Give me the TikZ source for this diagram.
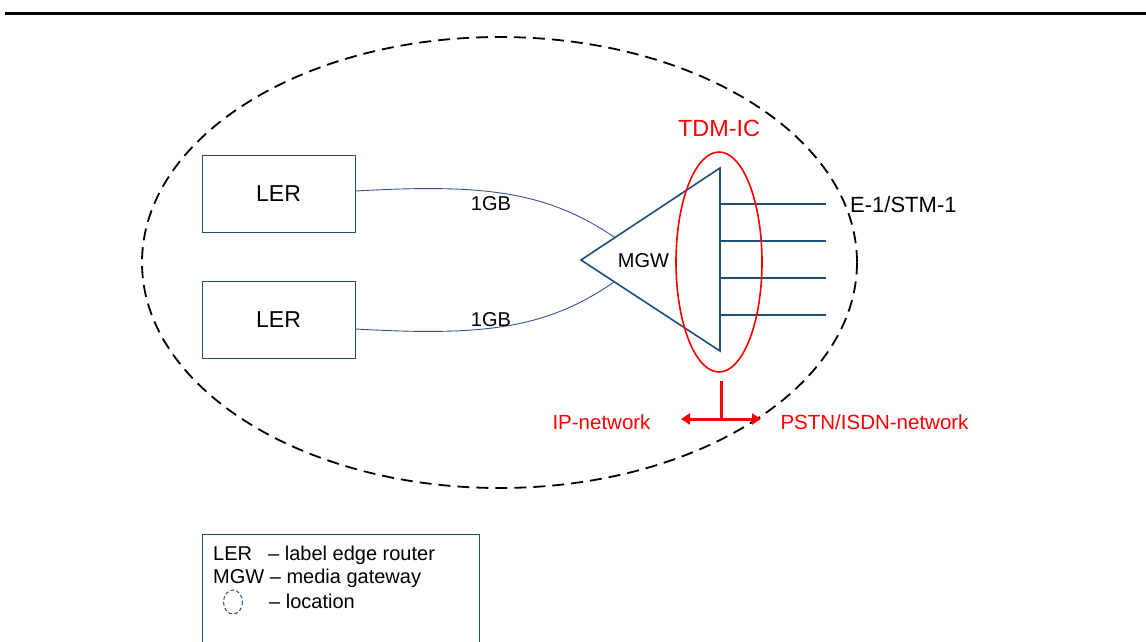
\documentclass[tikz,border=0pt]{standalone}
\usepackage{fontspec}
\setmainfont{Liberation Sans}
\usetikzlibrary{arrows.meta}
\definecolor{navy}{HTML}{1F4E79}
\definecolor{linkblue}{HTML}{2F5597}
\definecolor{rred}{HTML}{FF0000}
\begin{document}
\begin{tikzpicture}[x=1pt,y=-1pt,
  lerbox/.style={draw=navy,line width=1pt,minimum width=153pt,minimum height=77pt,inner sep=0pt,font=\fontsize{23}{27}\selectfont},
  lbl/.style={font=\fontsize{20}{24}\selectfont,inner sep=0pt},
  redtxt/.style={text=rred,inner sep=0pt},
  leg/.style={font=\fontsize{20}{24}\selectfont,anchor=base west,inner sep=0pt},
  link/.style={draw=linkblue,line width=0.9pt},
  gw/.style={draw=navy,line width=1.6pt},
  loc/.style={draw=black,line width=1.8pt,dash pattern=on 12pt off 7pt}]
\useasboundingbox (0,0) rectangle (1146,641);
% top rule
\draw[line width=3pt] (5,13) -- (1146,13);
% location ellipse
\draw[loc] (499.5,262.5) ellipse [x radius=357.5, y radius=225.5];
% LER boxes
\node[lerbox] (ler1) at (278.5,194) {LER};
\node[lerbox] (ler2) at (278.5,320) {LER};
% MGW triangle
\coordinate (tl) at (581,260);
\coordinate (tt) at (720,168);
\coordinate (tb) at (720,351);
\draw[gw] (tl) -- (tt) -- (tb) -- cycle;
\node[lbl] (mgw) at (643.5,261) {MGW};
% links
\coordinate (e1) at (614,237);
\coordinate (e2) at (614,282);
\draw[link] (ler1.east |- 0,191) .. controls (480,184) and (545,190) .. (e1);
\draw[link] (ler2.east |- 0,329) .. controls (480,336) and (545,330) .. (e2);
\node[lbl] (gb1) at (491,204) {1GB};
\node[lbl] (gb2) at (491,319.5) {1GB};
% E-1 lines
\foreach \y/\n in {204/a,241/b,278/c,315/d}{
  \coordinate (s\n) at (720,\y);
  \coordinate (f\n) at (826,\y);
  \draw[gw] (s\n) -- (f\n);
}
\node[font=\fontsize{22}{26}\selectfont,anchor=west,inner sep=0pt] (e1stm) at (850,205) {E-1/STM-1};
% TDM-IC
\draw[draw=rred,line width=1.6pt] (719,262) ellipse [x radius=43, y radius=110];
\node[redtxt,font=\fontsize{23.4}{27}\selectfont] (tdm) at (719,128) {TDM-IC};
% red T
\coordinate (tv1) at (721,381);
\coordinate (tv2) at (721,419);
\coordinate (ta) at (681,419);
\coordinate (tbb) at (761,419);
\draw[rred,line width=3pt] (tv1) -- (tv2);
\draw[rred,line width=3pt,{Triangle[length=9pt,width=11pt]}-{Triangle[length=9pt,width=11pt]}] (ta) -- (tbb);
\node[redtxt,font=\fontsize{20.5}{24}\selectfont] (ip) at (601.5,422) {IP-network};
\node[redtxt,font=\fontsize{20.5}{24}\selectfont] (pstn) at (874.5,422) {PSTN/ISDN-network};
% legend
\draw[draw=navy,line width=1pt] (202,645) -- (202,534) -- (479,534) -- (479,645);
\node[leg] (l1) at (213,560) {LER};
\node[leg] (l1b) at (268,560) {– label edge router};
\node[leg] (l2) at (213,583) {MGW – media gateway};
\draw[draw=navy,line width=1pt,dash pattern=on 3.5pt off 2.5pt] (233,602) ellipse [x radius=9.5, y radius=12];
\node[leg] (l3) at (269,608) {– location};
\end{tikzpicture}
\end{document}
